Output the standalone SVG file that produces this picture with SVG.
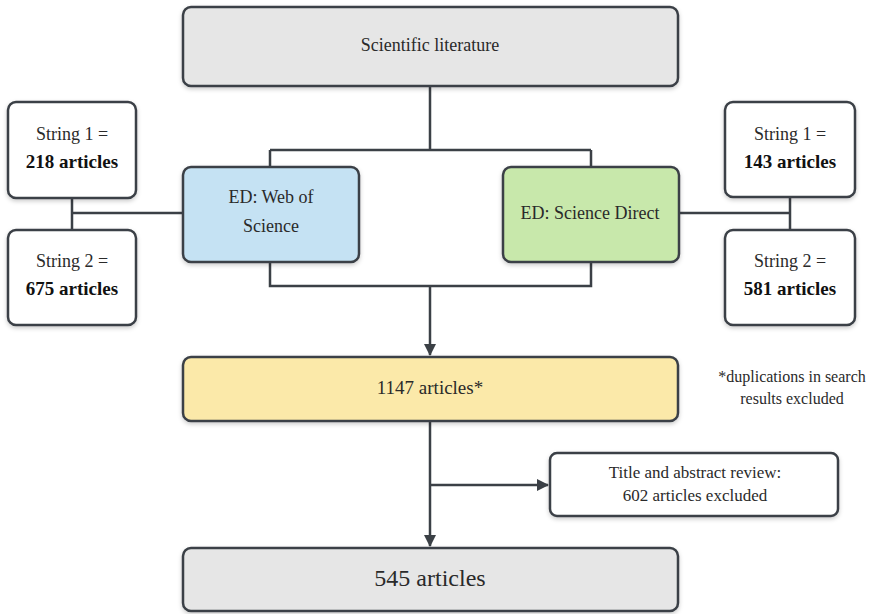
<svg xmlns="http://www.w3.org/2000/svg" width="878" height="614" viewBox="0 0 878 614">
<style>
.box{stroke:#3b4046;stroke-width:2.5;filter:url(#sh)}
.ln{stroke:#3b4046;stroke-width:2.5;fill:none}
text{font-family:"Liberation Serif","Times New Roman",serif;fill:#2a2a2a;text-anchor:middle}
.b{font-weight:bold;fill:#111}
</style>
<defs>
<filter id="sh" x="-10%" y="-10%" width="120%" height="130%">
<feDropShadow dx="0" dy="2" stdDeviation="2" flood-color="#000" flood-opacity="0.2"/>
</filter>
<marker id="ar" markerWidth="12" markerHeight="12" refX="11" refY="6" orient="auto" markerUnits="userSpaceOnUse">
<path d="M0,0 L12,6 L0,12 Z" fill="#3b4046"/>
</marker>
</defs>
<g id="connectors">
<path class="ln" d="M430,86 V150 M270,150 H591 M270,150 V167 M591,150 V167"/>
<path class="ln" d="M270,262 V286 H591 V262"/>
<path class="ln" d="M430,286 V355" marker-end="url(#ar)"/>
<path class="ln" d="M72,198 V230 M72,213 H183"/>
<path class="ln" d="M790,197 V230 M679,213 H790"/>
<path class="ln" d="M430,421 V546" marker-end="url(#ar)"/>
<path class="ln" d="M430,485 H548" marker-end="url(#ar)"/>
</g>
<g id="scientific-literature">
<rect class="box" x="183" y="7" width="495" height="79" rx="8" fill="#e6e6e6"/>
<text x="430" y="51" font-size="18">Scientific literature</text>
</g>
<g id="web-of-science">
<rect class="box" x="183" y="167" width="176" height="95" rx="8" fill="#c5e2f3"/>
<text x="271" y="203" font-size="18">ED: Web of</text>
<text x="271" y="232" font-size="18">Science</text>
</g>
<g id="science-direct">
<rect class="box" x="503" y="167" width="176" height="95" rx="8" fill="#c8e8ab"/>
<text x="590" y="219" font-size="18">ED: Science Direct</text>
</g>
<g id="wos-string1">
<rect class="box" x="8" y="102" width="128" height="96" rx="8" fill="#ffffff"/>
<text x="72" y="140" font-size="18">String 1 =</text>
<text x="72" y="168" font-size="19" class="b">218 articles</text>
</g>
<g id="wos-string2">
<rect class="box" x="8" y="230" width="128" height="95" rx="8" fill="#ffffff"/>
<text x="72" y="267" font-size="18">String 2 =</text>
<text x="72" y="295" font-size="19" class="b">675 articles</text>
</g>
<g id="sd-string1">
<rect class="box" x="725" y="102" width="130" height="95" rx="8" fill="#ffffff"/>
<text x="790" y="140" font-size="18">String 1 =</text>
<text x="790" y="168" font-size="19" class="b">143 articles</text>
</g>
<g id="sd-string2">
<rect class="box" x="725" y="230" width="130" height="95" rx="8" fill="#ffffff"/>
<text x="790" y="267" font-size="18">String 2 =</text>
<text x="790" y="295" font-size="19" class="b">581 articles</text>
</g>
<g id="articles-1147">
<rect class="box" x="183" y="357" width="495" height="64" rx="8" fill="#fbe9a9"/>
<text x="430" y="394" font-size="19">1147 articles*</text>
</g>
<g id="footnote">
<text x="792" y="382" font-size="16">*duplications in search</text>
<text x="792" y="404" font-size="16">results excluded</text>
</g>
<g id="title-abstract">
<rect class="box" x="550" y="453" width="288" height="63" rx="7" fill="#ffffff"/>
<text x="695" y="478" font-size="17">Title and abstract review:</text>
<text x="695" y="501" font-size="17">602 articles excluded</text>
</g>
<g id="articles-545">
<rect class="box" x="183" y="548" width="495" height="63" rx="8" fill="#e6e6e6"/>
<text x="430" y="586" font-size="24">545 articles</text>
</g>
</svg>
